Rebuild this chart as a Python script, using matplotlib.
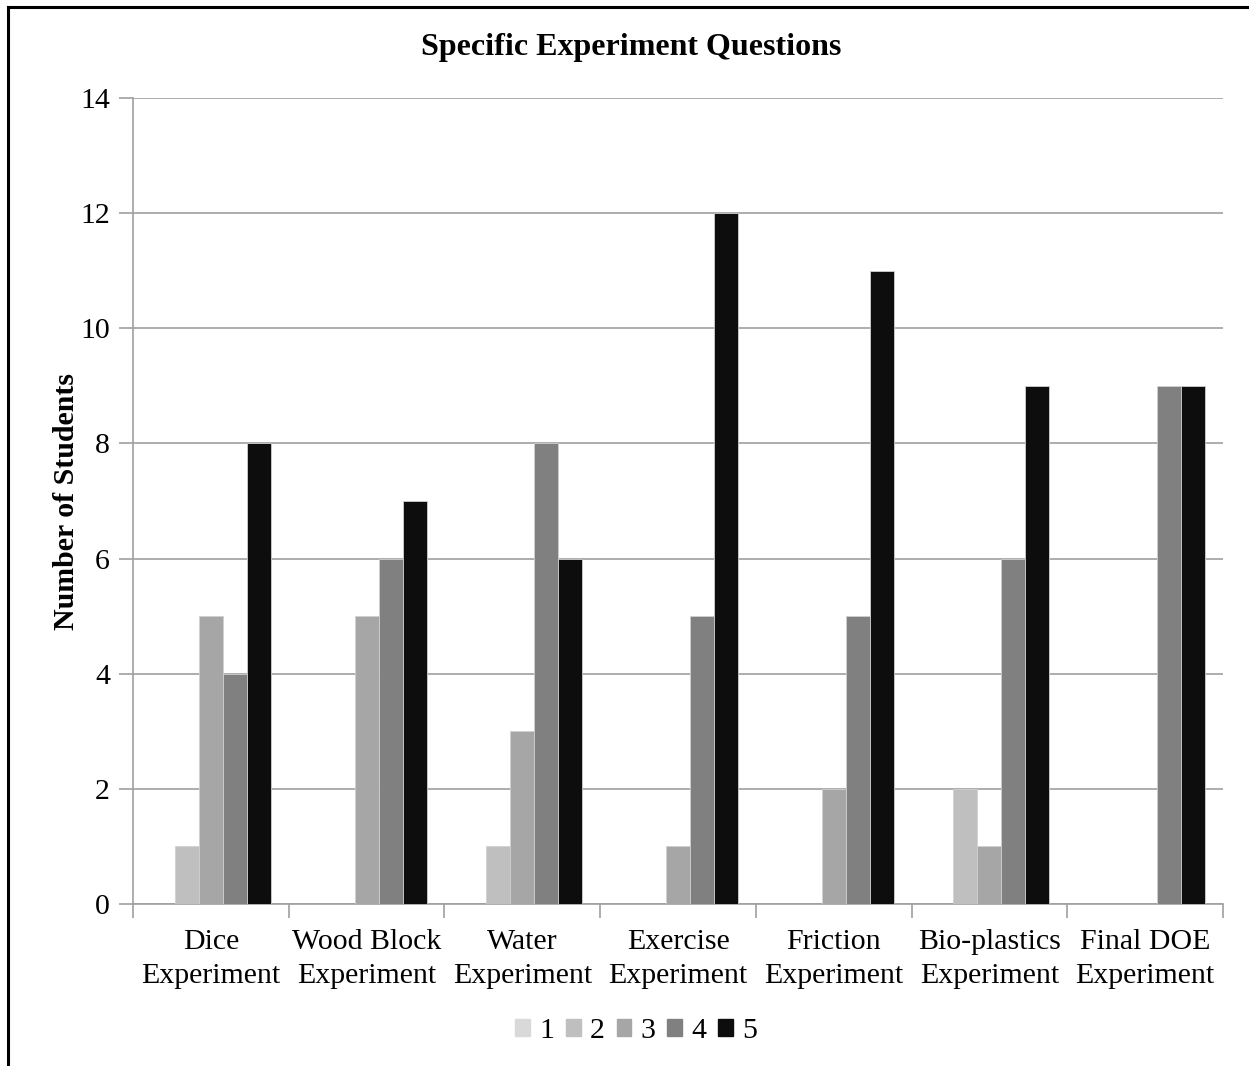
import matplotlib
matplotlib.use("Agg")
import matplotlib.pyplot as plt
import numpy as np
from matplotlib.lines import Line2D

plt.rcParams['font.family'] = ['Liberation Serif', 'DejaVu Serif']

categories = ["Dice\nExperiment", "Wood Block\nExperiment", "Water\nExperiment",
              "Exercise\nExperiment", "Friction\nExperiment", "Bio-plastics\nExperiment",
              "Final DOE\nExperiment"]
series_names = ["1", "2", "3", "4", "5"]
s1 = [0, 0, 0, 0, 0, 0, 0]
s2 = [1, 0, 1, 0, 0, 2, 0]
s3 = [5, 5, 3, 1, 2, 1, 0]
s4 = [4, 6, 8, 5, 5, 6, 9]
s5 = [8, 7, 6, 12, 11, 9, 9]
series = [s1, s2, s3, s4, s5]
colors = ["#d9d9d9", "#bfbfbf", "#a6a6a6", "#808080", "#0d0d0d"]

fig = plt.figure(figsize=(12.49, 10.66), dpi=100)
ax = fig.add_axes([133/1249, 1 - 904/1066, (1223-133)/1249, (904-98)/1066])

x = np.arange(len(categories))
bw = 0.154
for i, (vals, c) in enumerate(zip(series, colors)):
    ax.bar(x + (i - 2) * bw, vals, width=bw, color=c, edgecolor="#d0d0d0",
           linewidth=0.6, label=series_names[i], zorder=3)

ax.set_xlim(-0.5, len(categories) - 0.5)
ax.set_ylim(0, 14)
ax.set_yticks(range(0, 15, 2))
ax.yaxis.grid(True, color="#a0a0a0", linewidth=1.2, zorder=0)
ax.set_axisbelow(True)

for s in ["top", "right"]:
    ax.spines[s].set_visible(False)
for s in ["left", "bottom"]:
    ax.spines[s].set_color("#a0a0a0")
    ax.spines[s].set_linewidth(1.2)

ax.set_xticks(np.arange(-0.5, len(categories), 1.0))
ax.set_xticklabels([])
ax.set_xticks(x, minor=True)
ax.set_xticklabels(categories, minor=True, fontsize=21.5, linespacing=1.42)
ax.tick_params(axis="x", which="major", length=10, color="#a0a0a0", width=1.2)
ax.tick_params(axis="x", which="minor", length=0, pad=18)
ax.tick_params(axis="y", length=10, color="#a0a0a0", width=1.2, labelsize=21.5, pad=6.5)

ax.set_ylabel("Number of Students", fontsize=21.5, fontweight="bold", labelpad=0)
fig.text(631/1249, 1 - 48/1066, "Specific Experiment Questions", ha="center", va="center",
         fontsize=23, fontweight="bold")

handles = [plt.Rectangle((0, 0), 1, 1, color=c) for c in colors]
fig.legend(handles, series_names, loc="center", bbox_to_anchor=(636/1249, 1 - 1031/1066),
           ncol=5, frameon=False, fontsize=21.5, handlelength=0.5, handleheight=0.5,
           handletextpad=0.3, columnspacing=0.4)

# outer frame (left and top)
fig.add_artist(Line2D([8/1249, 8/1249], [0, 1 - 7/1066], color="black", linewidth=2.2,
                      transform=fig.transFigure))
fig.add_artist(Line2D([8/1249, 1], [1 - 7/1066, 1 - 7/1066], color="black", linewidth=2.2,
                      transform=fig.transFigure))

fig.savefig("out.png", dpi=100)
